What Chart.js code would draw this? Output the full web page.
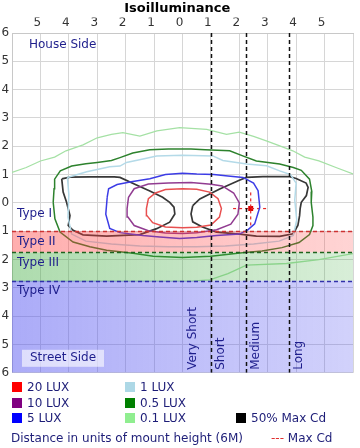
<!DOCTYPE html>
<html>
<head>
<meta charset="utf-8">
<script src="https://cdn.jsdelivr.net/npm/chart.js@4/dist/chart.umd.min.js"></script>
<style>
html,body{margin:0;padding:0;background:#fff;}
#wrap{position:relative;width:360px;height:448px;overflow:hidden;}
#c{position:absolute;left:0;top:0;}
.lg{position:absolute;font:12px "DejaVu Sans",sans-serif;color:#1e1e78;white-space:pre;line-height:14px;height:14px;}
.lg i{position:absolute;left:-15px;top:2px;width:10px;height:10px;}
</style>
</head>
<body>
<div id="wrap">
<canvas id="c" width="360" height="382"></canvas>
<div class="lg" style="left:27px;top:380px"><i style="background:#ff0000"></i>20 LUX</div>
<div class="lg" style="left:27px;top:396px"><i style="background:#800080"></i>10 LUX</div>
<div class="lg" style="left:27px;top:411px"><i style="background:#0000ff"></i>5 LUX</div>
<div class="lg" style="left:140px;top:380px"><i style="background:#add8e6"></i>1 LUX</div>
<div class="lg" style="left:140px;top:396px"><i style="background:#008000"></i>0.5 LUX</div>
<div class="lg" style="left:140px;top:411px"><i style="background:#90ee90"></i>0.1 LUX</div>
<div class="lg" style="left:251px;top:411px"><i style="background:#000000"></i>50% Max Cd</div>
<div class="lg" style="left:11px;top:431px">Distance in units of mount height (6M)</div>
<div class="lg" style="left:271px;top:431px"><span style="color:#e03030">---</span> Max Cd</div>
</div>
<script>
// ---- data ----
const lux20 = [[-1.27,-0.2],[-1.2,0.15],[-0.95,0.35],[-0.6,0.47],[0,0.5],[0.5,0.48],[0.95,0.38],[1.25,0.15],[1.37,-0.2],[1.3,-0.5],[1.0,-0.78],[0.5,-0.86],[0,-0.88],[-0.6,-0.85],[-1.05,-0.7],[-1.25,-0.45],[-1.27,-0.2]];
const lux10 = [[-1.95,-0.2],[-1.9,0.2],[-1.7,0.5],[-1.2,0.67],[-0.5,0.7],[0.3,0.72],[1.0,0.66],[1.4,0.6],[1.8,0.35],[2.0,0.0],[1.95,-0.4],[1.7,-0.75],[1.2,-0.95],[0.5,-1.05],[0,-1.08],[-0.6,-1.06],[-1.2,-0.98],[-1.7,-0.8],[-1.92,-0.5],[-1.95,-0.2]];
const lux5 = [[-2.65,0.2],[-2.6,0.5],[-2.3,0.65],[-1.8,0.75],[-1.15,0.85],[-0.6,1.0],[0,1.05],[0.5,1.02],[1.1,1.0],[1.6,0.95],[2.13,0.9],[2.5,0.7],[2.66,0.43],[2.72,-0.15],[2.54,-0.74],[2.3,-0.95],[2.0,-1.1],[1.2,-1.15],[0.5,-1.22],[-0.1,-1.26],[-0.8,-1.2],[-1.4,-1.15],[-2.2,-1.05],[-2.56,-0.9],[-2.7,-0.4],[-2.65,0.2]];
const lux1 = [[-4.05,0.9],[-3.37,1.1],[-2.56,1.28],[-2.2,1.3],[-1.97,1.43],[-1.39,1.55],[-0.91,1.66],[0,1.68],[1.07,1.66],[1.42,1.5],[2.26,1.37],[2.96,1.31],[3.42,1.13],[3.8,1.0],[4.0,0.7],[3.95,0.1],[4.02,-0.6],[3.9,-1.15],[3.4,-1.35],[2.5,-1.45],[1.5,-1.52],[0.5,-1.55],[-0.5,-1.55],[-1.5,-1.52],[-2.5,-1.45],[-3.4,-1.35],[-3.9,-1.1],[-4.03,-0.5],[-4.0,0.3],[-4.05,0.9]];
const lux05 = [[-4.55,0.02],[-4.52,0.5],[-4.5,0.84],[-4.3,1.13],[-3.9,1.3],[-3.4,1.38],[-3.0,1.43],[-2.5,1.5],[-2.2,1.6],[-1.75,1.76],[-1.15,1.88],[-0.5,1.9],[0.3,1.9],[0.8,1.88],[1.66,1.84],[2.12,1.66],[2.6,1.48],[3.42,1.37],[3.9,1.25],[4.18,1.15],[4.47,0.84],[4.55,0.4],[4.53,0.02],[4.59,-0.5],[4.59,-0.8],[4.47,-1.12],[4.1,-1.4],[3.5,-1.58],[2.8,-1.7],[2.1,-1.76],[1.0,-1.88],[0,-1.93],[-1.03,-1.88],[-1.74,-1.78],[-2.67,-1.67],[-3.26,-1.55],[-3.85,-1.38],[-4.31,-1.03],[-4.49,-0.56],[-4.55,0.02]];
const lux01 = [[-6.3,0.98],[-6,1.08],[-5.5,1.25],[-5,1.48],[-4.5,1.62],[-4.1,1.84],[-3.5,2.05],[-3,2.3],[-2.5,2.42],[-2.1,2.48],[-1.5,2.36],[-0.9,2.54],[-0.1,2.66],[0.85,2.6],[1.55,2.42],[2.0,2.5],[2.5,2.35],[2.95,2.19],[3.4,2.02],[3.88,1.84],[4.3,1.62],[4.8,1.48],[5.4,1.25],[6,1.02],[6.3,0.9],[6.3,-1.7],[6,-1.79],[4.8,-2.0],[3.66,-2.14],[2.25,-2.2],[1.6,-2.5],[0.96,-2.72],[0.3,-2.76],[-1,-2.76],[-3,-2.76],[-6,-2.76],[-6.3,-2.76],[-6.3,0.98]];
const maxCdLeft = [[-4.25,0.85],[-3.96,0.91],[-3.26,0.92],[-2.4,0.92],[-2.2,0.9],[-1.6,0.62],[-1.15,0.42],[-0.7,0.2],[-0.45,0.02],[-0.3,-0.15],[-0.27,-0.39],[-0.45,-0.68],[-0.91,-0.91],[-1.5,-1.12],[-2.67,-1.17],[-3.5,-1.13],[-3.85,-0.97],[-4.02,-0.8],[-3.96,-0.45],[-4.08,0.02],[-4.2,0.38],[-4.25,0.85]];
const maxCdRight = [[0.36,-0.1],[0.61,0.14],[1.31,0.49],[2.0,0.8],[2.25,0.9],[2.83,0.93],[3.77,0.93],[4.0,0.86],[4.35,0.7],[4.42,0.55],[4.36,0.26],[4.18,0.02],[4.14,-0.2],[4.12,-0.45],[4.06,-0.8],[3.89,-1.09],[3.42,-1.18],[2.6,-1.17],[2.01,-1.1],[1.2,-1.03],[0.7,-0.85],[0.36,-0.67],[0.3,-0.39],[0.36,-0.1]];
const maxCdPoint = [[2.4,-0.2]];
const maxCdH = [[1.78,-0.2],[2.95,-0.2]];
const maxCdV = [[2.4,0.37],[2.4,-0.8]];
const bandTops = [0, -1, -1.75, -2.75];
const bandNames = ['Type I','Type II','Type III','Type IV'];
const distEdges = [1, 2.25, 3.75];
const distNames = ['Very Short','Short','Medium','Long'];
const axisTicks = [-6,-5,-4,-3,-2,-1,0,1,2,3,4,5,6];

const pts = a => a.map(p => ({x:p[0], y:p[1]}));
function contour(data, color, w){
  return {data: pts(data), showLine: true, borderColor: color, borderWidth: w||1.5, pointRadius: 0, fill: false, tension: 0};
}
const datasets = [
  contour(lux01, 'rgb(165,225,165)', 1.3),
  contour(lux05, 'rgb(45,130,45)'),
  contour(lux1, 'rgb(180,218,232)'),
  contour(lux5, 'rgb(60,60,230)'),
  contour(lux10, 'rgb(145,60,145)'),
  contour(lux20, 'rgb(232,80,80)'),
  contour(maxCdLeft, 'rgb(55,55,55)', 1.7),
  contour(maxCdRight, 'rgb(55,55,55)', 1.7),
  Object.assign(contour(maxCdH, 'rgb(230,40,40)', 1.2), {borderDash:[3,3]}),
  Object.assign(contour(maxCdV, 'rgb(230,40,40)', 1.2), {borderDash:[3,3]}),
  {data: pts(maxCdPoint), showLine:false, pointStyle:'rect', pointRadius:3.5, backgroundColor:'#e00000', borderColor:'#e00000', borderWidth:0}
];

const navy = '#1e1e8c';
const overlay = {
  id: 'overlay',
  afterDatasetsDraw(chart){
    const {ctx, chartArea:a, scales:{x, y}} = chart;
    ctx.save();
    ctx.beginPath(); ctx.rect(a.left, a.top, a.right - a.left, a.bottom - a.top); ctx.clip();
    const fills = [null,
      ['rgba(255,60,60,0.42)','rgba(255,60,60,0.22)'],
      ['rgba(60,170,60,0.42)','rgba(60,170,60,0.2)'],
      ['rgba(80,80,240,0.48)','rgba(80,80,240,0.26)']];
    const lineCols = [null, 'rgb(205,50,50)', 'rgb(30,100,30)', 'rgb(50,50,170)'];
    for (let i = 1; i < bandTops.length; i++){
      const t = y.getPixelForValue(bandTops[i]);
      const b = i + 1 < bandTops.length ? y.getPixelForValue(bandTops[i+1]) : y.getPixelForValue(y.min);
      const g = ctx.createLinearGradient(a.left, 0, a.right, 0);
      g.addColorStop(0, fills[i][0]); g.addColorStop(1, fills[i][1]);
      ctx.fillStyle = g;
      ctx.fillRect(a.left, t, a.right - a.left, b - t);
    }
    ctx.lineWidth = 1.5;
    ctx.setLineDash([4,3]);
    for (let i = 1; i < bandTops.length; i++){
      const t = Math.round(y.getPixelForValue(bandTops[i])) + 0.5;
      ctx.strokeStyle = lineCols[i];
      ctx.beginPath(); ctx.moveTo(a.left, t); ctx.lineTo(a.right, t); ctx.stroke();
    }
    ctx.strokeStyle = '#111';
    for (const e of distEdges){
      const px = Math.round(x.getPixelForValue(e)) + 0.5;
      ctx.beginPath(); ctx.moveTo(px, a.top); ctx.lineTo(px, a.bottom); ctx.stroke();
    }
    ctx.setLineDash([]);
    // texts
    ctx.font = '12px "DejaVu Sans", sans-serif';
    ctx.fillStyle = navy;
    ctx.textBaseline = 'middle';
    ctx.textAlign = 'left';
    ctx.fillText('House Side', a.left + 17, a.top + 12);
    for (let i = 0; i < bandTops.length; i++){
      ctx.fillText(bandNames[i], a.left + 5, y.getPixelForValue(bandTops[i]) + 10.5);
    }
    ctx.fillStyle = 'rgba(255,255,255,0.6)';
    ctx.fillRect(a.left + 10, a.bottom - 23, 82, 17);
    ctx.fillStyle = navy;
    ctx.textAlign = 'center';
    ctx.fillText('Street Side', a.left + 51, a.bottom - 14.5);
    ctx.textAlign = 'left';
    for (let i = 0; i < distNames.length; i++){
      let cx;
      if (i === 0) cx = x.getPixelForValue(distEdges[0]) - 18;
      else cx = x.getPixelForValue(distEdges[i-1]) + 9.5;
      ctx.save();
      ctx.translate(cx, a.bottom - 3);
      ctx.rotate(-Math.PI/2);
      ctx.fillText(distNames[i], 0, 0);
      ctx.restore();
    }
    ctx.restore();
  }
};

const tickFont = {family: '"DejaVu Sans", sans-serif', size: 12};
new Chart(document.getElementById('c'), {
  type: 'scatter',
  data: {datasets},
  options: {
    responsive: false,
    animation: false,
    events: [],
    layout: {padding: {left: 1.5, right: 7, top: 0, bottom: 7}},
    plugins: {
      legend: {display: false},
      tooltip: {enabled: false},
      title: {display: true, text: 'Isoilluminance', color: '#000',
        font: {family: '"DejaVu Sans", sans-serif', size: 13, weight: 'bold'},
        padding: {top: 1, bottom: 1}}
    },
    scales: {
      x: {
        type: 'linear', position: 'top', min: -6, max: 6,
        afterBuildTicks: s => { s.ticks = axisTicks.map(v => ({value: v})); },
        ticks: {font: tickFont, color: '#333', padding: 3, labelOffset: -3, maxRotation: 0, autoSkip: false,
          callback: v => Math.abs(v) === 6 ? '' : String(Math.abs(v))},
        grid: {color: '#d6d6d6', drawTicks: false, lineWidth: 1},
        border: {color: '#c8c8c8'},
        afterFit: s => { s.height = 15.4; }
      },
      y: {
        type: 'linear', min: -6, max: 6,
        afterBuildTicks: s => { s.ticks = axisTicks.map(v => ({value: v})); },
        ticks: {font: tickFont, color: '#333', padding: 2, crossAlign: 'far', autoSkip: false,
          callback: v => String(Math.abs(v))},
        grid: {color: '#d6d6d6', drawTicks: false, lineWidth: 1},
        border: {color: '#c8c8c8'},
        afterFit: s => { s.width = 10.5; }
      }
    }
  },
  plugins: [overlay]
});
</script>
</body>
</html>
